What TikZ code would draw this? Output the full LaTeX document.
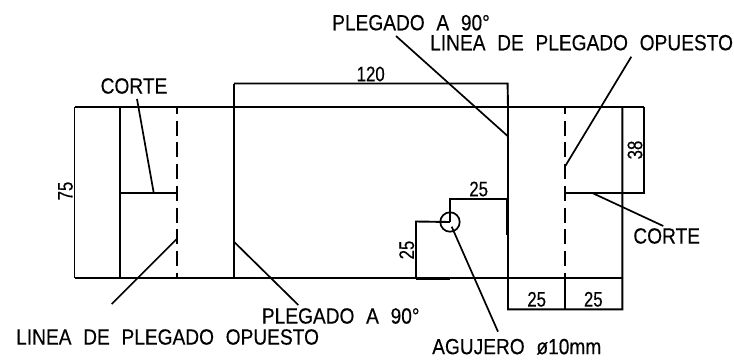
\documentclass[tikz,border=0pt]{standalone}
\usepackage{fontspec}
\setmainfont[FakeStretch=0.87,WordSpace=2.2,FakeBold=0.3]{Liberation Sans}
\newfontfamily\dimfont[FakeStretch=0.8,FakeBold=0.3]{Liberation Sans}
\begin{document}
\begin{tikzpicture}[x=1pt,y=-1pt,
  edge/.style={line width=1.9pt,black},
  lead/.style={line width=1.7pt,black},
  fold/.style={line width=1.9pt,black,dash pattern=on 15pt off 6.7pt,dash phase=8.3pt},
  lbl/.style={inner sep=0pt,font=\fontsize{22}{22}\selectfont,text=black},
  lblL/.style={lbl,anchor=west},
  dimlbl/.style={inner sep=0pt,font=\dimfont\fontsize{21}{21}\selectfont,text=black},
  hole/.style={circle,draw=black,line width=1.7pt,minimum size=19.4pt,inner sep=0pt}]
\useasboundingbox (0,0) rectangle (734,360);
\fill[white] (0,0) rectangle (734,360);
\coordinate (TL) at (74.5,107.3); \coordinate (BL) at (74.5,278.3);
\coordinate (TR) at (644.3,107.3); \coordinate (BR) at (622.3,278.3);
\coordinate (t2) at (120,107.3); \coordinate (b2) at (120,278.3);
\coordinate (t3) at (176.7,107.3); \coordinate (b3) at (176.7,278.3);
\coordinate (d1) at (233.9,83.5); \coordinate (b4) at (233.9,278.3);
\coordinate (d2) at (507.6,83.5); \coordinate (b5) at (508,309.3);
\coordinate (t5) at (508,107.3);
\coordinate (t6) at (565.3,107.3); \coordinate (b6) at (565.3,309.3);
\coordinate (t7) at (622.3,107.3); \coordinate (b7) at (622.3,309.3);
\coordinate (c1) at (120,192.7); \coordinate (c2) at (176.7,192.7);
\coordinate (c3) at (565.3,192.7); \coordinate (c4) at (644.3,192.7);
\draw[edge] (TL) -- (TR);
\draw[edge] (BL) -- (BR);
\draw[edge] (TL) -- (BL);
\draw[edge] (t2) -- (b2);
\draw[edge] (d1) -- (b4);
\draw[edge] (d1) -- (d2) -- (t5) -- (b5) -- (b7) -- (BR) -- (t7);
\draw[edge] (t6 |- BR) -- (b6);
\draw[fold] (t3) -- (b3);
\draw[fold] (t6) -- (t6 |- BR);
\draw[edge] (c1) -- (c2);
\draw[edge] (c3) -- (c4) -- (TR);
\node[hole] (hole) at (450,222) {};
\coordinate (hc) at (450,222);
\coordinate (h1) at (450,198.7); \coordinate (h2) at (507.4,198.7); \coordinate (h3) at (507.4,234.7);
\coordinate (v1) at (416,221.5); \coordinate (v2) at (416,278.3); \coordinate (v3) at (450,278.3);
\draw[edge] (hc) -- (h1) -- (h2);
\draw[line width=2.4pt] (h2) -- (h3);
\draw[edge] (hc) -- (v1) -- (v2);
\draw[line width=2.4pt] (v2) -- (v3);
\coordinate (l1a) at (137,99); \coordinate (l1b) at (153.7,192.7);
\coordinate (l2a) at (176.7,239); \coordinate (l2b) at (111.7,304);
\coordinate (l3a) at (233.9,241.7); \coordinate (l3b) at (298.3,305);
\coordinate (l4a) at (396,36); \coordinate (l4b) at (507.6,136);
\coordinate (l5a) at (631.3,56.7); \coordinate (l5b) at (565.3,166);
\coordinate (l6a) at (591.7,192.7); \coordinate (l6b) at (663.3,226);
\coordinate (l7a) at (451.7,226.7); \coordinate (l7b) at (498,331.7);
\draw[lead] (l1a) -- (l1b);
\draw[lead] (l2a) -- (l2b);
\draw[lead] (l3a) -- (l3b);
\draw[lead] (l4a) -- (l4b);
\draw[lead] (l5a) -- (l5b);
\draw[lead] (l6a) -- (l6b);
\draw[lead] (l7a) -- (l7b);
\node[lbl] (corteA) at (134,86) {CORTE};
\node[lbl] (corteB) at (666.7,236) {CORTE};
\node[lblL] (lineaA) at (16,337) {LINEA DE PLEGADO OPUESTO};
\node[lblL] (lineaB) at (430,42.7) {LINEA DE PLEGADO OPUESTO};
\node[lblL] (plegA) at (261.7,316) {PLEGADO A 90°};
\node[lblL] (plegB) at (332,22.7) {PLEGADO A 90°};
\node[lblL] (aguj) at (432,346.7) {AGUJERO ø10mm};
\node[dimlbl] (d120) at (370.7,74) {120};
\node[dimlbl] (d25a) at (478.7,189) {25};
\node[dimlbl,rotate=90] (d25b) at (406.7,250) {25};
\node[dimlbl,rotate=90] (d75) at (65.5,191) {75};
\node[dimlbl,rotate=90] (d38) at (635,150) {38};
\node[dimlbl] (d25c) at (536.7,299.3) {25};
\node[dimlbl] (d25d) at (593.3,299.3) {25};
\end{tikzpicture}
\end{document}
